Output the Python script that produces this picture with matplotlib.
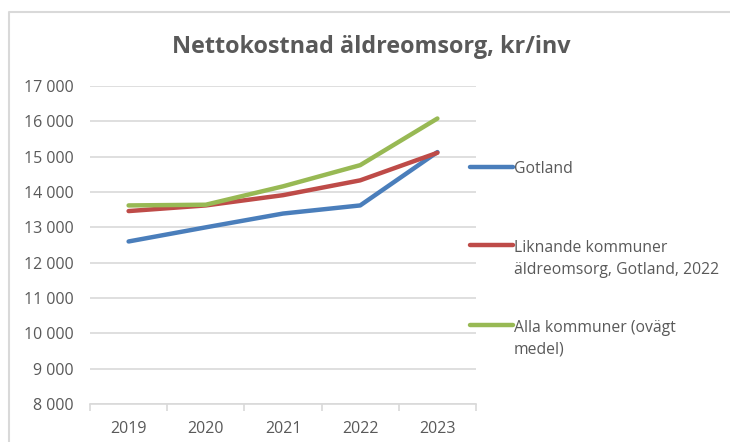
import matplotlib.pyplot as plt
from matplotlib.lines import Line2D

years = ["2019", "2020", "2021", "2022", "2023"]
gotland = [12600, 13000, 13390, 13620, 15130]
liknande = [13460, 13620, 13910, 14330, 15110]
alla = [13620, 13640, 14160, 14760, 16080]
y_ticks = [8000, 9000, 10000, 11000, 12000, 13000, 14000, 15000, 16000, 17000]
series_labels = ["Gotland", "Liknande kommuner\näldreomsorg, Gotland, 2022",
                 "Alla kommuner (ovägt\nmedel)"]

plt.rcParams["font.family"] = ["Open Sans", "DejaVu Sans"]
TEXT = "#595959"
GRID = "#d9d9d9"
colors = ["#4a7ebb", "#be4b48", "#98b954"]

fig = plt.figure(figsize=(7.3, 4.42), dpi=100)
ax = fig.add_axes([90 / 730, 1 - 404 / 442, 386 / 730, 318 / 442])

x = range(len(years))
for vals, c in zip([gotland, liknande, alla], colors):
    ax.plot(x, vals, color=c, linewidth=3.2, solid_capstyle="round", zorder=3)

ax.set_xlim(-0.5, len(years) - 0.5)
ax.set_ylim(8000, 17000)
ax.set_yticks(y_ticks)
ax.set_yticklabels([f"{v:,}".replace(",", " ") for v in y_ticks])
ax.set_xticks(list(x))
ax.set_xticklabels(years)
ax.set_xticks([i - 0.5 for i in range(len(years) + 1)], minor=True)
ax.grid(axis="y", color=GRID, linewidth=1.2, zorder=0)
for s in ["left", "right", "top"]:
    ax.spines[s].set_visible(False)
ax.spines["bottom"].set_color(GRID)
ax.spines["bottom"].set_linewidth(1.2)
ax.tick_params(axis="y", length=0, pad=12, labelsize=11.5, labelcolor=TEXT)
ax.tick_params(axis="x", which="major", length=0, pad=12, labelsize=11.5, labelcolor=TEXT)
ax.tick_params(axis="x", which="minor", length=5, color=GRID, width=1.2)

fig.text(371 / 730, 1 - 47 / 442, "Nettokostnad äldreomsorg, kr/inv", ha="center", va="center",
         fontsize=16.8, fontweight="bold", color=TEXT)

# legend
leg_y = [169, 259, 339]
for lbl, c, yy in zip(series_labels, colors, leg_y):
    nlines = lbl.count("\n") + 1
    first = yy - 2 - (nlines - 1) * 12
    fig.add_artist(Line2D([470 / 730, 513 / 730], [1 - first / 442] * 2, color=c,
                          linewidth=3.2, solid_capstyle="round"))
    fig.text(514 / 730, 1 - yy / 442, lbl, ha="left", va="center", fontsize=11.3,
             color=TEXT, linespacing=1.45)

# chart border
fig.add_artist(Line2D([9 / 730, 9 / 730, 1], [0, 1 - 12 / 442, 1 - 12 / 442],
                      color=GRID, linewidth=1.5))

fig.savefig("out.png", dpi=100)
